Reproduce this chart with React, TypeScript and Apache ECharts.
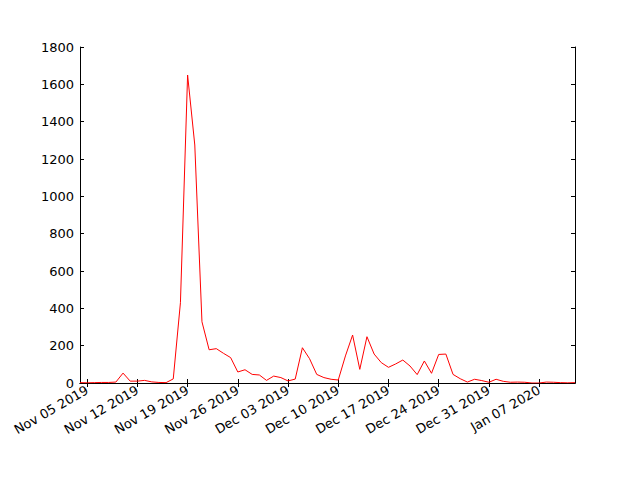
import React, { useEffect, useRef } from "react";
import * as echarts from "echarts";

// Daily dates from Nov 04 2019 to Jan 12 2020
const startDate = "2019-11-04";
const dayCount = 70;
const monthNames = ["Jan", "Feb", "Mar", "Apr", "May", "Jun", "Jul", "Aug", "Sep", "Oct", "Nov", "Dec"];

const values = [
  2, 1, 2, 3, 3, 5, 53, 10, 10, 14,
  6, 3, 2, 22, 430, 1650, 1275, 328, 178, 184,
  159, 136, 59, 71, 46, 43, 14, 37, 29, 11,
  21, 189, 130, 46, 29, 20, 16, 145, 257, 73,
  248, 155, 109, 84, 102, 123, 91, 45, 118, 52,
  153, 155, 46, 23, 5, 20, 13, 4, 20, 9,
  4, 5, 4, 0, 0, 5, 4, 2, 1, 2,
];

const tickLabels = [
  "Nov 05 2019", "Nov 12 2019", "Nov 19 2019", "Nov 26 2019", "Dec 03 2019",
  "Dec 10 2019", "Dec 17 2019", "Dec 24 2019", "Dec 31 2019", "Jan 07 2020",
];

const yTicks = [0, 200, 400, 600, 800, 1000, 1200, 1400, 1600, 1800];

function buildCategories(): string[] {
  const out: string[] = [];
  const d0 = new Date(startDate + "T00:00:00Z");
  for (let i = 0; i < dayCount; i++) {
    const d = new Date(d0.getTime() + i * 86400000);
    const dd = String(d.getUTCDate()).padStart(2, "0");
    out.push(`${monthNames[d.getUTCMonth()]} ${dd} ${d.getUTCFullYear()}`);
  }
  return out;
}

export default function App() {
  const ref = useRef<HTMLDivElement>(null);
  useEffect(() => {
    if (!ref.current) return;
    const chart = echarts.init(ref.current, null, { renderer: "svg" });
    const categories = buildCategories();
    const isTick = (idx: number) => tickLabels.indexOf(categories[idx]) >= 0;
    const font = { fontFamily: "DejaVu Sans", fontSize: 13, color: "#000" };
    const lineStyle = { color: "#000", width: 1 };
    chart.setOption({
      animation: false,
      backgroundColor: "#fff",
      grid: { left: 80, top: 47, right: 65, bottom: 97, containLabel: false },
      xAxis: [
        {
          type: "category",
          data: categories,
          boundaryGap: false,
          position: "bottom",
          axisLine: { show: true, lineStyle },
          axisTick: { show: true, inside: true, length: 4, lineStyle, interval: (i: number) => isTick(i) },
          axisLabel: {
            ...font,
            rotate: 30,
            margin: 6,
            hideOverlap: false,
            interval: (i: number) => isTick(i),
          },
          splitLine: { show: false },
        },
        {
          type: "category",
          data: categories,
          boundaryGap: false,
          position: "top",
          axisLine: { show: true, lineStyle },
          axisTick: { show: true, inside: true, length: 4, lineStyle, interval: (i: number) => isTick(i) },
          axisLabel: { show: false },
          splitLine: { show: false },
        },
      ],
      yAxis: [
        {
          type: "value",
          min: yTicks[0],
          max: yTicks[yTicks.length - 1],
          interval: 200,
          position: "left",
          axisLine: { show: true, lineStyle },
          axisTick: { show: true, inside: true, length: 4, lineStyle },
          axisLabel: { ...font, margin: 6, formatter: (v: number) => String(v) },
          splitLine: { show: false },
        },
        {
          type: "value",
          min: yTicks[0],
          max: yTicks[yTicks.length - 1],
          interval: 200,
          position: "right",
          axisLine: { show: true, lineStyle },
          axisTick: { show: true, inside: true, length: 4, lineStyle },
          axisLabel: { show: false },
          splitLine: { show: false },
        },
      ],
      series: [
        {
          type: "line",
          data: values,
          xAxisIndex: 0,
          yAxisIndex: 0,
          showSymbol: false,
          symbol: "none",
          lineStyle: { color: "#ff0000", width: 1 },
          itemStyle: { color: "#ff0000" },
        },
      ],
    });
    return () => chart.dispose();
  }, []);
  return (
    <div
      ref={ref}
      style={{ position: "absolute", left: 0, top: 0, width: 640, height: 480 }}
    />
  );
}
